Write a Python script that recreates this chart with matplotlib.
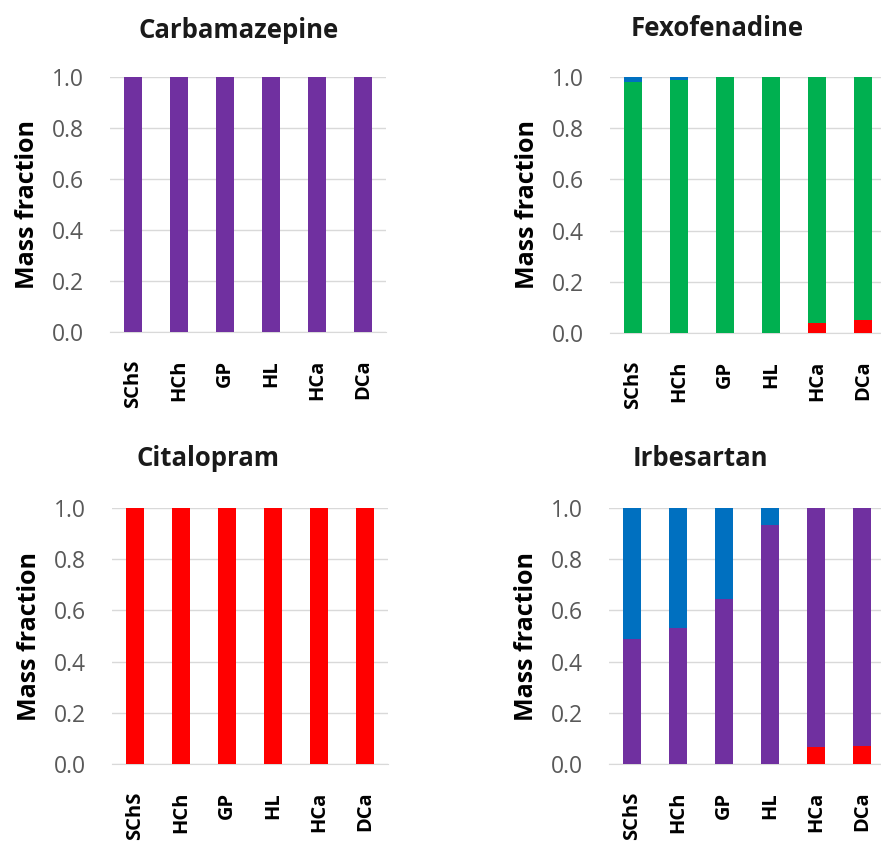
import numpy as np
import matplotlib
matplotlib.use("Agg")
from matplotlib import pyplot as plt

plt.rcParams['font.family'] = ['Open Sans', 'DejaVu Sans']

# Categories (sampling sites)
sites = ['SChS', 'HCh', 'GP', 'HL', 'HCa', 'DCa']

# Mass fractions per panel, stacked bottom -> top: red, purple, green, blue
carb_red = [0, 0, 0, 0, 0, 0]
carb_purple = [1.0, 1.0, 1.0, 1.0, 1.0, 1.0]
carb_green = [0, 0, 0, 0, 0, 0]
carb_blue = [0, 0, 0, 0, 0, 0]

fexo_red = [0, 0, 0, 0, 0.04, 0.05]
fexo_purple = [0, 0, 0, 0, 0, 0]
fexo_green = [0.98, 0.987, 1.0, 1.0, 0.96, 0.95]
fexo_blue = [0.02, 0.013, 0, 0, 0, 0]

cita_red = [1.0, 1.0, 1.0, 1.0, 1.0, 1.0]
cita_purple = [0, 0, 0, 0, 0, 0]
cita_green = [0, 0, 0, 0, 0, 0]
cita_blue = [0, 0, 0, 0, 0, 0]

irbe_red = [0, 0, 0, 0, 0.065, 0.072]
irbe_purple = [0.49, 0.53, 0.645, 0.935, 0.935, 0.928]
irbe_green = [0, 0, 0, 0, 0, 0]
irbe_blue = [0.51, 0.47, 0.355, 0.065, 0, 0]

colors = ['#FF0000', '#7030A0', '#00B050', '#0070C0']

panels = [
    ('Carbamazepine', [carb_red, carb_purple, carb_green, carb_blue],
     [0.1249, 0.6062, 0.3133, 0.3025], (239, 30)),
    ('Fexofenadine', [fexo_red, fexo_purple, fexo_green, fexo_blue],
     [0.6924, 0.6050, 0.3133, 0.3037], (717, 29)),
    ('Citalopram', [cita_red, cita_purple, cita_green, cita_blue],
     [0.1271, 0.0937, 0.3133, 0.3037], (208, 458)),
    ('Irbesartan', [irbe_red, irbe_purple, irbe_green, irbe_blue],
     [0.6913, 0.0937, 0.3133, 0.3037], (700, 458)),
]

W, H = 881, 843
fig = plt.figure(figsize=(W / 100, H / 100), dpi=100)

x = np.arange(len(sites))
for title, series, rect, tpos in panels:
    ax = fig.add_axes(rect)
    bottom = np.zeros(len(sites))
    for vals, c in zip(series, colors):
        vals = np.array(vals)
        ax.bar(x, vals, width=0.41, bottom=bottom, color=c, zorder=3)
        bottom += vals
    ax.set_xlim(-0.5, 5.5)
    ax.set_ylim(0, 1.0)
    ax.set_yticks(np.arange(0, 1.01, 0.2))
    ax.set_yticklabels(['%.1f' % v for v in np.arange(0, 1.01, 0.2)])
    ax.set_xticks(x)
    ax.set_xticklabels(sites, rotation=90, fontweight='bold', fontsize=14.5)
    ax.grid(axis='y', color='#d9d9d9', linewidth=1, zorder=0)
    for s in ['top', 'right', 'left']:
        ax.spines[s].set_visible(False)
    ax.spines['bottom'].set_color('#d9d9d9')
    ax.tick_params(axis='x', length=0, pad=20)
    ax.tick_params(axis='y', length=0, pad=19, labelsize=16.5, labelcolor='#595959')
    ax.set_ylabel('Mass fraction', fontsize=18, fontweight='bold', labelpad=8)
    fig.text(tpos[0] / W, 1 - tpos[1] / H, title, ha='center', va='center',
             fontsize=18.5, fontweight='bold', color='#1a1a1a')

fig.savefig('out.png', dpi=100)
